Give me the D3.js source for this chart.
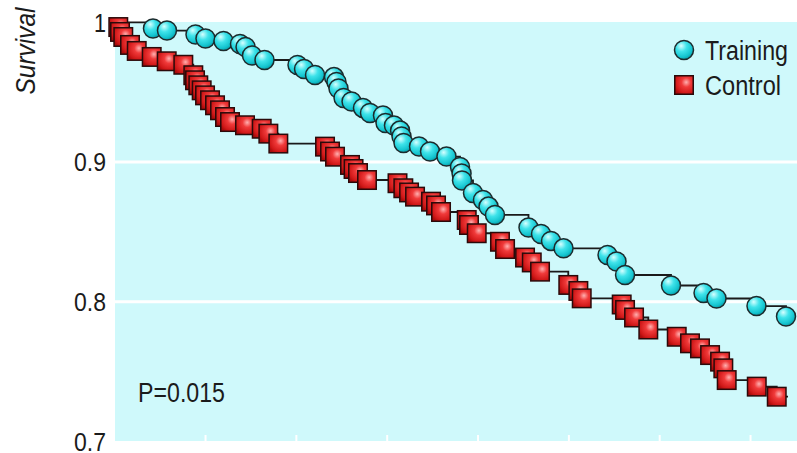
<!DOCTYPE html>
<html>
<head>
<meta charset="utf-8">
<script src="https://cdn.jsdelivr.net/npm/d3@7"></script>
<style>
  html, body { margin: 0; padding: 0; background: #ffffff; }
  svg { display: block; }
  text { font-family: "Liberation Sans Narrow", "Arial Narrow", "Liberation Sans", Arial, sans-serif; fill: #1b1b1b; }
</style>
</head>
<body>
<svg id="chart" width="797" height="453"></svg>
<script>
// ---- data ----
const survivalTicks = [0.7, 0.8, 0.9, 1];
const gridValues = [0.8, 0.9];
const timeTicks = [1, 2, 3, 4, 5, 6, 7];
const seriesNames = ["Training", "Control"];
const pValueLabel = "P=0.015";
const yLabel = "Survival";

const trainingTime = [0.427, 0.581, 0.895, 1.005, 1.203, 1.385, 1.446, 1.517, 1.655, 2.018,
  2.090, 2.211, 2.420, 2.447, 2.469, 2.525, 2.613, 2.739, 2.816, 2.959,
  2.987, 3.080, 3.147, 3.163, 3.185, 3.356, 3.477, 3.658, 3.807, 3.824,
  3.829, 3.950, 4.060, 4.121, 4.192, 4.561, 4.699, 4.809, 4.947, 5.431,
  5.530, 5.624, 6.130, 6.488, 6.631, 7.071, 7.396];
const trainingSurvival = [0.9956, 0.9941, 0.9913, 0.9884, 0.9866, 0.9845, 0.9823, 0.9762, 0.9730, 0.9694,
  0.9666, 0.9623, 0.9608, 0.9573, 0.9526, 0.9458, 0.9433, 0.9387, 0.9351, 0.9333,
  0.9279, 0.9261, 0.9225, 0.9183, 0.9136, 0.9111, 0.9075, 0.9039, 0.8964, 0.8918,
  0.8868, 0.8778, 0.8728, 0.8681, 0.8621, 0.8531, 0.8485, 0.8435, 0.8382, 0.8334,
  0.8288, 0.8191, 0.8116, 0.8062, 0.8023, 0.7969, 0.7894];
const trainingFollowUpEnd = 7.396;

const controlTime = [0.045, 0.064, 0.100, 0.174, 0.248, 0.413, 0.578, 0.761, 0.871, 0.890,
  0.926, 0.963, 1.000, 1.055, 1.110, 1.165, 1.220, 1.275, 1.440, 1.624,
  1.697, 1.807, 2.321, 2.376, 2.431, 2.596, 2.635, 2.684, 2.783, 3.119,
  3.183, 3.246, 3.312, 3.488, 3.543, 3.598, 3.881, 3.906, 3.991, 4.247,
  4.303, 4.523, 4.597, 4.688, 4.999, 5.110, 5.147, 5.587, 5.624, 5.723,
  5.880, 6.193, 6.339, 6.449, 6.560, 6.670, 6.706, 6.743, 7.074, 7.294];
const controlSurvival = [0.9966, 0.9931, 0.9895, 0.9838, 0.9795, 0.9752, 0.9721, 0.9696, 0.9621, 0.9585,
  0.9549, 0.9513, 0.9477, 0.9442, 0.9406, 0.9370, 0.9322, 0.9286, 0.9263, 0.9238,
  0.9203, 0.9132, 0.9110, 0.9075, 0.9038, 0.8979, 0.8950, 0.8921, 0.8871, 0.8848,
  0.8812, 0.8782, 0.8752, 0.8716, 0.8689, 0.8642, 0.8585, 0.8549, 0.8490, 0.8429,
  0.8377, 0.8316, 0.8281, 0.8215, 0.8120, 0.8077, 0.8024, 0.7980, 0.7941, 0.7887,
  0.7801, 0.7749, 0.7702, 0.7666, 0.7618, 0.7571, 0.7523, 0.7439, 0.7392, 0.7320];
const controlFollowUpEnd = 7.418;

// ---- layout ----
const svg = d3.select("#chart");
const plot = { left: 115, right: 797, top: 22, bottom: 441 };

const x = d3.scaleLinear().domain([0, 7.517]).range([114.2, 797]);
const y = d3.scaleLinear().domain([0.7, 1]).range([441.4, 22.3]);

// condensed text helper: squeeze the glyphs to the width of the reference's narrow face
function fitWidth(sel, width) {
  sel.each(function (d) {
    const w = typeof width === "function" ? width(d) : width;
    d3.select(this).attr("textLength", w).attr("lengthAdjust", "spacingAndGlyphs");
  });
}

// gradients
const defs = svg.append("defs");
const gC = defs.append("radialGradient").attr("id", "gradCircle")
  .attr("cx", "38%").attr("cy", "32%").attr("r", "70%").attr("fx", "35%").attr("fy", "28%");
gC.append("stop").attr("offset", "0%").attr("stop-color", "#d6ffff");
gC.append("stop").attr("offset", "40%").attr("stop-color", "#3fe3ea");
gC.append("stop").attr("offset", "80%").attr("stop-color", "#14c4cf");
gC.append("stop").attr("offset", "100%").attr("stop-color", "#0a9ca6");

const gS = defs.append("radialGradient").attr("id", "gradSquare")
  .attr("cx", "62%").attr("cy", "38%").attr("r", "72%").attr("fx", "62%").attr("fy", "35%");
gS.append("stop").attr("offset", "0%").attr("stop-color", "#ffb0b0");
gS.append("stop").attr("offset", "35%").attr("stop-color", "#f03a3a");
gS.append("stop").attr("offset", "80%").attr("stop-color", "#d01818");
gS.append("stop").attr("offset", "100%").attr("stop-color", "#a80c0c");

// plot background
svg.append("rect")
  .attr("x", plot.left).attr("y", plot.top)
  .attr("width", plot.right - plot.left).attr("height", plot.bottom - plot.top)
  .attr("fill", "#cff9fb");

// gridlines
svg.append("g").selectAll("line").data(gridValues).join("line")
  .attr("x1", plot.left).attr("x2", plot.right)
  .attr("y1", d => y(d)).attr("y2", d => y(d))
  .attr("stroke", "#ffffff").attr("stroke-width", 3);

// bottom ticks (white, inside plot)
const xAxis = svg.append("g")
  .attr("transform", `translate(0,${plot.bottom})`)
  .call(d3.axisBottom(x).tickValues(timeTicks).tickSize(-6).tickFormat(""));
xAxis.select(".domain").remove();
xAxis.selectAll(".tick line").attr("stroke", "#ffffff").attr("stroke-width", 2);

// y axis labels
const yAxis = svg.append("g")
  .attr("transform", `translate(${plot.left},0)`)
  .call(d3.axisLeft(y).tickValues(survivalTicks).tickSize(0).tickPadding(9).tickFormat(d3.format("")));
yAxis.select(".domain").remove();
yAxis.selectAll(".tick text")
  .attr("font-size", 26)
  .attr("font-family", '"Liberation Sans Narrow", "Arial Narrow", "Liberation Sans", Arial, sans-serif')
  .attr("fill", "#1b1b1b")
  .attr("dy", "0.34em")
  .call(fitWidth, d => (d === 1 ? 12 : 32));

// y title
svg.append("text")
  .attr("transform", "translate(35,51) rotate(-90)")
  .attr("text-anchor", "middle")
  .attr("font-size", 27)
  .attr("font-style", "italic")
  .text(yLabel)
  .call(fitWidth, 87);

// series
const line = d3.line().x(d => x(d[0])).y(d => y(d[1])).curve(d3.curveStepAfter);

function pointsFor(times, surv, end) {
  const pts = [[0, 1]];
  times.forEach((t, i) => pts.push([t, surv[i]]));
  pts.push([end, surv[surv.length - 1]]);
  return pts;
}

// training
svg.append("path")
  .attr("d", line(pointsFor(trainingTime, trainingSurvival, trainingFollowUpEnd)))
  .attr("fill", "none").attr("stroke", "#1a1a1a").attr("stroke-width", 1.8);
svg.append("g").selectAll("circle")
  .data(trainingTime.map((t, i) => [t, trainingSurvival[i]]))
  .join("circle")
  .attr("cx", d => x(d[0])).attr("cy", d => y(d[1])).attr("r", 9.5)
  .attr("fill", "url(#gradCircle)").attr("stroke", "#1c2a2c").attr("stroke-width", 1.5);

// control
svg.append("path")
  .attr("d", line(pointsFor(controlTime, controlSurvival, controlFollowUpEnd)))
  .attr("fill", "none").attr("stroke", "#1a1a1a").attr("stroke-width", 1.8);
const sq = 18.5;
svg.append("g").selectAll("rect")
  .data(controlTime.map((t, i) => [t, controlSurvival[i]]))
  .join("rect")
  .attr("x", d => x(d[0]) - sq / 2).attr("y", d => y(d[1]) - sq / 2)
  .attr("width", sq).attr("height", sq)
  .attr("fill", "url(#gradSquare)").attr("stroke", "#2a0a0a").attr("stroke-width", 1.5);

// legend
const legend = svg.append("g");
legend.append("circle").attr("cx", 684).attr("cy", 50).attr("r", 9.5)
  .attr("fill", "url(#gradCircle)").attr("stroke", "#1c2a2c").attr("stroke-width", 1.5);
legend.append("rect").attr("x", 684 - sq / 2).attr("y", 85 - sq / 2).attr("width", sq).attr("height", sq)
  .attr("fill", "url(#gradSquare)").attr("stroke", "#2a0a0a").attr("stroke-width", 1.5);
legend.selectAll("text").data(seriesNames).join("text")
  .attr("x", 705).attr("y", (d, i) => 50 + i * 35)
  .attr("dy", "0.36em")
  .attr("font-size", 27)
  .text(d => d)
  .call(fitWidth, (d) => (d === "Training" ? 83 : 76));

// p value
svg.append("text")
  .attr("x", 138).attr("y", 392).attr("dy", "0.36em")
  .attr("font-size", 27)
  .text(pValueLabel)
  .call(fitWidth, 87);
</script>
</body>
</html>
